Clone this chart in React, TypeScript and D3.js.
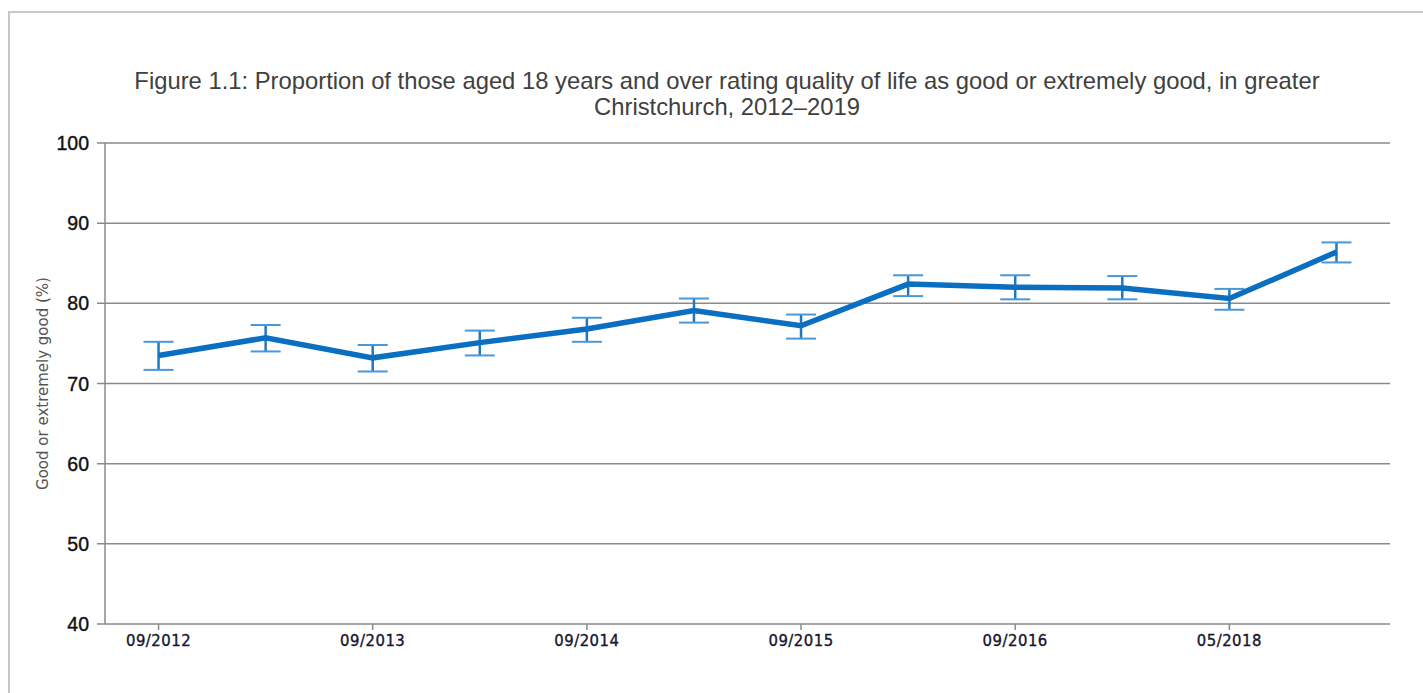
import React from "react";
import * as d3 from "d3";

const categories = [
  "09/2012", "03/2013", "09/2013", "03/2014", "09/2014", "03/2015",
  "09/2015", "03/2016", "09/2016", "09/2017", "05/2018", "05/2019",
];
const values = [73.5, 75.7, 73.2, 75.1, 76.8, 79.1, 77.2, 82.4, 82.0, 81.9, 80.6, 86.4];
const lower = [71.7, 74.0, 71.5, 73.5, 75.2, 77.6, 75.6, 80.9, 80.5, 80.5, 79.2, 85.1];
const upper = [75.2, 77.3, 74.8, 76.6, 78.2, 80.6, 78.6, 83.5, 83.5, 83.4, 81.8, 87.6];
const yTicks = [40, 50, 60, 70, 80, 90, 100];
const shownLabels = ["09/2012", "09/2013", "09/2014", "09/2015", "09/2016", "05/2018"];

const titleLines = [
  "Figure 1.1: Proportion of those aged 18 years and over rating quality of life as good or extremely good, in greater",
  "Christchurch, 2012\u20132019",
];
const yTitle = "Good or extremely good (%)";

const W = 1423;
const H = 693;
const plot = { left: 105, right: 1390, top: 143, bottom: 624 };

export default function App() {
  const x = d3.scaleBand<string>().domain(categories).range([plot.left, plot.right]);
  const y = d3.scaleLinear().domain([40, 100]).range([plot.bottom, plot.top]);
  const cx = (c: string) => (x(c) as number) + x.bandwidth() / 2;

  const line = d3
    .line<number>()
    .x((_, i) => cx(categories[i]))
    .y((v) => y(v));

  const gridColor = "#8a8a8a";
  const capHalf = 15;

  return (
    <svg
      width={W}
      height={H}
      style={{ position: "absolute", left: 0, top: 0, background: "#fff" }}
    >
      <rect x={9} y={12} width={W + 20} height={H + 20} fill="#fff" stroke="#c8c8c8" strokeWidth={2} />

      <g fontFamily="'Liberation Sans', Arial, sans-serif" fontSize={23.8} fill="#404040" textAnchor="middle">
        {titleLines.map((t, i) => (
          <text key={i} x={727} y={89 + i * 26}>
            {t}
          </text>
        ))}
      </g>

      {/* horizontal gridlines with left tick stubs */}
      <g>
        {yTicks.map((t) => (
          <line key={t} x1={97} x2={plot.right} y1={y(t)} y2={y(t)} stroke={gridColor} strokeWidth={1.5} />
        ))}
        <line x1={plot.left} x2={plot.left} y1={plot.top} y2={plot.bottom} stroke={gridColor} strokeWidth={1.5} />
      </g>

      <g
        fontFamily="'Liberation Sans', Arial, sans-serif"
        fontSize={19.5}
        fill="#111"
        stroke="#111"
        strokeWidth={0.4}
        textAnchor="end"
      >
        {yTicks.map((t) => (
          <text key={t} x={89} y={y(t) + 7}>
            {t}
          </text>
        ))}
      </g>

      <text
        transform={`translate(48, ${(plot.top + plot.bottom) / 2}) rotate(-90)`}
        textAnchor="middle"
        fontFamily="'DejaVu Sans', sans-serif"
        fontSize={15}
        fill="#555"
      >
        {yTitle}
      </text>

      {/* category ticks and labels */}
      <g>
        {shownLabels.map((c) => (
          <g key={c}>
            <line x1={cx(c)} x2={cx(c)} y1={plot.bottom} y2={plot.bottom + 6} stroke={gridColor} strokeWidth={1.5} />
            <text
              x={cx(c)}
              y={plot.bottom + 22}
              textAnchor="middle"
              fontFamily="'DejaVu Sans Condensed', 'DejaVu Sans', sans-serif"
              fontSize={16.5}
              letterSpacing={0.5}
              fill="#15152e"
              stroke="#15152e"
              strokeWidth={0.35}
            >
              {c}
            </text>
          </g>
        ))}
      </g>

      {/* confidence interval whiskers */}
      <g>
        {categories.map((c, i) => {
          const px = cx(c);
          return (
            <g key={c}>
              <line x1={px} x2={px} y1={y(upper[i])} y2={y(lower[i])} stroke="#1f78c4" strokeWidth={2.5} />
              <line x1={px - capHalf} x2={px + capHalf} y1={y(upper[i])} y2={y(upper[i])} stroke="#4a97d8" strokeWidth={2} />
              <line x1={px - capHalf} x2={px + capHalf} y1={y(lower[i])} y2={y(lower[i])} stroke="#4a97d8" strokeWidth={2} />
            </g>
          );
        })}
      </g>

      <path d={line(values) || ""} fill="none" stroke="#0a6fc0" strokeWidth={5.5} strokeLinejoin="miter" />
    </svg>
  );
}
